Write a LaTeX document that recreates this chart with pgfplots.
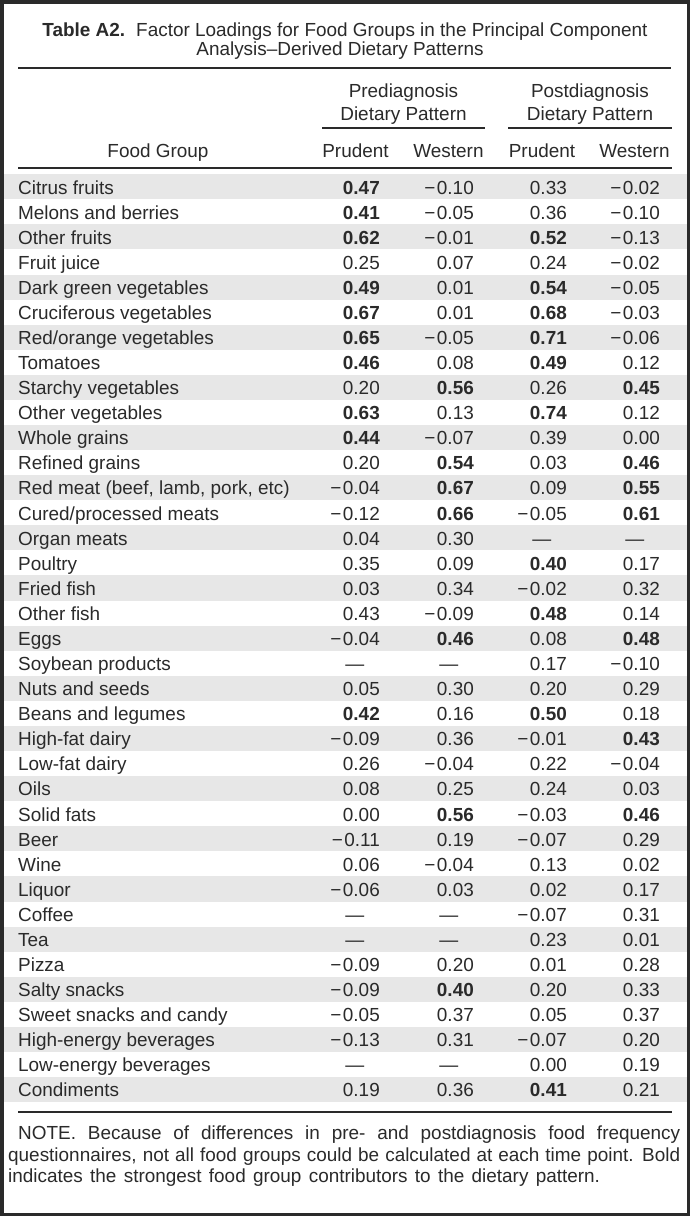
\documentclass[border=0pt]{standalone}
\usepackage{pgfplots}
\usepackage{pgfplotstable}
\pgfplotsset{compat=1.18}
\usepackage{fontspec}
\setmainfont{Liberation Sans}

\definecolor{ink}{HTML}{2A2A2A}
\definecolor{band}{HTML}{E7E7E7}

\newcommand\bodyfont{\fontsize{19}{22}\selectfont}
\def\nanstr{nan}
% print a loading: true minus sign, dash for a missing cell
\def\signfix#1#2\relax{\ifx-#1−\kern1.5bp#2\else#1#2\fi}
\newcommand\loadcell[1]{%
  \edef\cellval{#1}%
  \ifx\cellval\nanstr
    \makebox[0pt][c]{—}\hspace*{25bp}%
  \else
    \expandafter\signfix\cellval\relax
  \fi}

\pgfplotsset{
  cellcol/.style 2 args={
    draw=none, mark=none,
    point meta=explicit symbolic,
    restrict expr to domain={\thisrow{#2}}{0:0},
    nodes near coords={\loadcell{\pgfplotspointmeta}},
    nodes near coords style={anchor=base east, inner sep=0pt, text=ink, font=\bodyfont},
  },
  boldcol/.style 2 args={
    draw=none, mark=none,
    point meta=explicit symbolic,
    restrict expr to domain={\thisrow{#2}}{1:1},
    nodes near coords={\loadcell{\pgfplotspointmeta}},
    nodes near coords style={anchor=base east, inner sep=0pt, text=ink, font=\bodyfont\bfseries},
  },
}

\begin{document}
\pgfplotstableread[col sep=semicolon]{
name;p1;w1;p2;w2;b1;b2;b3;b4
Citrus fruits;0.47;-0.10;0.33;-0.02;1;0;0;0
Melons and berries;0.41;-0.05;0.36;-0.10;1;0;0;0
Other fruits;0.62;-0.01;0.52;-0.13;1;0;1;0
Fruit juice;0.25;0.07;0.24;-0.02;0;0;0;0
Dark green vegetables;0.49;0.01;0.54;-0.05;1;0;1;0
Cruciferous vegetables;0.67;0.01;0.68;-0.03;1;0;1;0
Red/orange vegetables;0.65;-0.05;0.71;-0.06;1;0;1;0
Tomatoes;0.46;0.08;0.49;0.12;1;0;1;0
Starchy vegetables;0.20;0.56;0.26;0.45;0;1;0;1
Other vegetables;0.63;0.13;0.74;0.12;1;0;1;0
Whole grains;0.44;-0.07;0.39;0.00;1;0;0;0
Refined grains;0.20;0.54;0.03;0.46;0;1;0;1
Red meat (beef{,} lamb{,} pork{,} etc);-0.04;0.67;0.09;0.55;0;1;0;1
Cured/processed meats;-0.12;0.66;-0.05;0.61;0;1;0;1
Organ meats;0.04;0.30;nan;nan;0;0;0;0
Poultry;0.35;0.09;0.40;0.17;0;0;1;0
Fried fish;0.03;0.34;-0.02;0.32;0;0;0;0
Other fish;0.43;-0.09;0.48;0.14;0;0;1;0
Eggs;-0.04;0.46;0.08;0.48;0;1;0;1
Soybean products;nan;nan;0.17;-0.10;0;0;0;0
Nuts and seeds;0.05;0.30;0.20;0.29;0;0;0;0
Beans and legumes;0.42;0.16;0.50;0.18;1;0;1;0
High-fat dairy;-0.09;0.36;-0.01;0.43;0;0;0;1
Low-fat dairy;0.26;-0.04;0.22;-0.04;0;0;0;0
Oils;0.08;0.25;0.24;0.03;0;0;0;0
Solid fats;0.00;0.56;-0.03;0.46;0;1;0;1
Beer;-0.11;0.19;-0.07;0.29;0;0;0;0
Wine;0.06;-0.04;0.13;0.02;0;0;0;0
Liquor;-0.06;0.03;0.02;0.17;0;0;0;0
Coffee;nan;nan;-0.07;0.31;0;0;0;0
Tea;nan;nan;0.23;0.01;0;0;0;0
Pizza;-0.09;0.20;0.01;0.28;0;0;0;0
Salty snacks;-0.09;0.40;0.20;0.33;0;1;0;0
Sweet snacks and candy;-0.05;0.37;0.05;0.37;0;0;0;0
High-energy beverages;-0.13;0.31;-0.07;0.20;0;0;0;0
Low-energy beverages;nan;nan;0.00;0.19;0;0;0;0
Condiments;0.19;0.36;0.41;0.21;0;0;1;0
}\loadings

\begin{tikzpicture}
\begin{axis}[
    width=690bp, height=1216bp, scale only axis,
    xmin=0, xmax=690, ymin=0, ymax=1216,
    y dir=reverse,
    hide axis, clip=false,
]
% background and frame
\fill[white] (axis cs:0,0) rectangle (axis cs:690,1216);
\draw[ink, line width=3.5bp] (axis cs:1.75,1.75) rectangle (axis cs:688.25,1214.25);

% alternate row shading
\pgfplotsinvokeforeach{0,2,4,6,8,10,12,14,16,18,20,22,24,26,28,30,32,34,36}{
  \fill[band] (axis cs:3.5,174.2+25.08*#1) rectangle (axis cs:686.5,199.3+25.08*#1);
}

% title
\node[anchor=base, text=ink, font=\bodyfont, inner sep=0pt] at (axis cs:345,36)
  {\textbf{Table A2.}\hspace{4bp} Factor Loadings for Food Groups in the Principal Component};
\node[anchor=base, text=ink, font=\bodyfont, inner sep=0pt] at (axis cs:340,55)
  {Analysis–Derived Dietary Patterns};
\draw[ink, line width=2.5bp] (axis cs:18,68) -- (axis cs:671,68);

% column headers
\node[anchor=base, text=ink, font=\bodyfont, inner sep=0pt] at (axis cs:403.5,97) {Prediagnosis};
\node[anchor=base, text=ink, font=\bodyfont, inner sep=0pt] at (axis cs:403.5,120) {Dietary Pattern};
\node[anchor=base, text=ink, font=\bodyfont, inner sep=0pt] at (axis cs:590,97) {Postdiagnosis};
\node[anchor=base, text=ink, font=\bodyfont, inner sep=0pt] at (axis cs:590,120) {Dietary Pattern};
\draw[ink, line width=2bp] (axis cs:322,128) -- (axis cs:485,128);
\draw[ink, line width=2bp] (axis cs:508,128) -- (axis cs:672,128);
\node[anchor=base, text=ink, font=\bodyfont, inner sep=0pt] at (axis cs:158,157) {Food Group};
\node[anchor=base, text=ink, font=\bodyfont, inner sep=0pt] at (axis cs:355.5,157) {Prudent};
\node[anchor=base, text=ink, font=\bodyfont, inner sep=0pt] at (axis cs:448.5,157) {Western};
\node[anchor=base, text=ink, font=\bodyfont, inner sep=0pt] at (axis cs:542,157) {Prudent};
\node[anchor=base, text=ink, font=\bodyfont, inner sep=0pt] at (axis cs:634.5,157) {Western};
\draw[ink, line width=2.5bp] (axis cs:18,168) -- (axis cs:672,168);

% food group names
\addplot[draw=none, mark=none, point meta=explicit symbolic,
    nodes near coords={\pgfplotspointmeta},
    nodes near coords style={anchor=base west, inner sep=0pt, text=ink, font=\bodyfont},
  ] table[x expr=18, y expr=194+25.08*\coordindex, meta=name] {\loadings};

% loadings, regular and bold
\addplot[cellcol={p1}{b1}] table[x expr=380, y expr=194+25.08*\coordindex, meta=p1] {\loadings};
\addplot[boldcol={p1}{b1}] table[x expr=380, y expr=194+25.08*\coordindex, meta=p1] {\loadings};
\addplot[cellcol={w1}{b2}] table[x expr=474, y expr=194+25.08*\coordindex, meta=w1] {\loadings};
\addplot[boldcol={w1}{b2}] table[x expr=474, y expr=194+25.08*\coordindex, meta=w1] {\loadings};
\addplot[cellcol={p2}{b3}] table[x expr=567, y expr=194+25.08*\coordindex, meta=p2] {\loadings};
\addplot[boldcol={p2}{b3}] table[x expr=567, y expr=194+25.08*\coordindex, meta=p2] {\loadings};
\addplot[cellcol={w2}{b4}] table[x expr=660, y expr=194+25.08*\coordindex, meta=w2] {\loadings};
\addplot[boldcol={w2}{b4}] table[x expr=660, y expr=194+25.08*\coordindex, meta=w2] {\loadings};

\draw[ink, line width=2.5bp] (axis cs:18,1112) -- (axis cs:672,1112);

% note
\node[anchor=north west, text=ink, inner sep=0pt, text width=672bp, align=justify,
      font=\fontsize{19}{21.5}\selectfont] at (axis cs:8,1126)
  {\spaceskip=7.3bp plus 5bp minus 2.2bp\relax
   \hspace*{10bp}NOTE. Because of differences in pre- and postdiagnosis food frequency\linebreak
   questionnaires, not all food groups could be calculated at each time point. Bold\linebreak
   indicates the strongest food group contributors to the dietary pattern.};
\end{axis}
\end{tikzpicture}
\end{document}
